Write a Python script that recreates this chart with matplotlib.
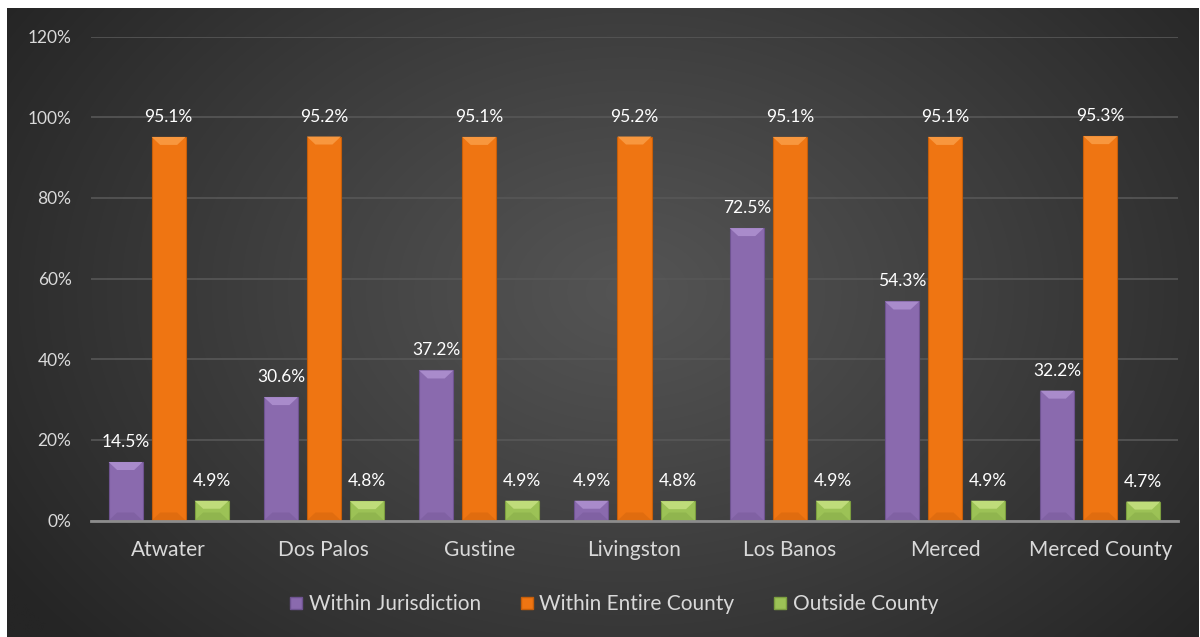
import numpy as np
import matplotlib
matplotlib.use("Agg")
import matplotlib.pyplot as plt
from matplotlib.patches import Polygon
from matplotlib.lines import Line2D

plt.rcParams['font.family'] = ['Lato', 'DejaVu Sans']

categories = ["Atwater", "Dos Palos", "Gustine", "Livingston", "Los Banos", "Merced", "Merced County"]
within_jurisdiction = [14.5, 30.6, 37.2, 4.9, 72.5, 54.3, 32.2]
within_county = [95.1, 95.2, 95.1, 95.2, 95.1, 95.1, 95.3]
outside_county = [4.9, 4.8, 4.9, 4.8, 4.9, 4.9, 4.7]
series_names = ["Within Jurisdiction", "Within Entire County", "Outside County"]
yticks = [0, 20, 40, 60, 80, 100, 120]

colors = ["#8A6AAE", "#EF7512", "#9CC256"]
light = ["#A98BCB", "#F8973E", "#BFDC7A"]
dark = ["#6E5390", "#C65E0A", "#7C9E40"]

W, H = 1200, 637
fig = plt.figure(figsize=(W / 100, H / 100), dpi=100, facecolor="white")

# background panel with radial gradient
bg = fig.add_axes([7 / W, 0, 1192 / W, 629 / H])
bg.set_axis_off()
ny, nx = 300, 560
yy, xx = np.mgrid[0:ny, 0:nx]
cx, cy = nx * 0.52, ny * 0.45
r = np.sqrt(((xx - cx) / (nx * 0.62)) ** 2 + ((yy - cy) / (ny * 0.85)) ** 2)
r = np.clip(r, 0, 1)
c0, c1 = 0x54, 0x25
val = (c0 + (c1 - c0) * r ** 1.1) / 255.0
img = np.dstack([val, val, val])
bg.imshow(img, aspect="auto", extent=[0, 1, 0, 1], interpolation="bilinear")
bg.set_xlim(0, 1)
bg.set_ylim(0, 1)

ax = fig.add_axes([91 / W, (H - 520.5) / H, 1087 / W, 484 / H])
ax.set_facecolor("none")
ax.set_xlim(-0.5, len(categories) - 0.5)
ax.set_ylim(0, 120)

x = np.arange(len(categories))
bw = 0.219
step = 0.277
data = [within_jurisdiction, within_county, outside_county]
px_per_unit_y = 484 / 120.0
bev_h = 8 / px_per_unit_y
bev_d = bw * 0.25

for i, vals in enumerate(data):
    xs = x + (i - 1) * step
    bars = ax.bar(xs, vals, width=bw, color=colors[i], edgecolor=dark[i], linewidth=0.8, zorder=3)
    for b, v in zip(bars, vals):
        x0 = b.get_x()
        x1 = x0 + b.get_width()
        top = b.get_height()
        h = min(bev_h, top / 2)
        d = bev_d
        ax.add_patch(Polygon([[x0, top], [x1, top], [x1 - d, top - h], [x0 + d, top - h]],
                             closed=True, facecolor=light[i], edgecolor="none", zorder=4))
        ax.add_patch(Polygon([[x0, 0], [x1, 0], [x1 - d, h], [x0 + d, h]],
                             closed=True, facecolor=dark[i], edgecolor="none", alpha=0.35, zorder=4))
        ax.text(b.get_x() + b.get_width() / 2, top + 20 / px_per_unit_y, f"{v:.1f}%",
                ha="center", va="center", color="white", fontsize=12.5, zorder=5)

ax.set_yticks(yticks)
ax.set_yticklabels([f"{t}%" for t in yticks], color="#D9D9D9", fontsize=12.5)
ax.set_xticks(x)
ax.set_xticklabels(categories, color="#D9D9D9", fontsize=15)
ax.tick_params(axis="both", length=0)
ax.tick_params(axis="y", pad=14)
ax.tick_params(axis="x", pad=14)
ax.grid(axis="y", color="#575757", linewidth=1.2, zorder=0)
ax.set_axisbelow(True)
for s in ["top", "right", "left"]:
    ax.spines[s].set_visible(False)
ax.spines["bottom"].set_color("#8C8C8C")
ax.spines["bottom"].set_linewidth(2)
ax.spines["bottom"].set_zorder(6)

handles = [Line2D([0], [0], marker="s", linestyle="none", markersize=9,
                  markerfacecolor=colors[i], markeredgecolor=dark[i]) for i in range(3)]
leg = fig.legend(handles, series_names, loc="center", bbox_to_anchor=(611 / W, (H - 604) / H),
                 ncol=3, frameon=False, fontsize=15, handletextpad=0.0, columnspacing=1.6,
                 handlelength=1.2)
for t in leg.get_texts():
    t.set_color("#D9D9D9")

fig.savefig("out.png", dpi=100, facecolor="white")
